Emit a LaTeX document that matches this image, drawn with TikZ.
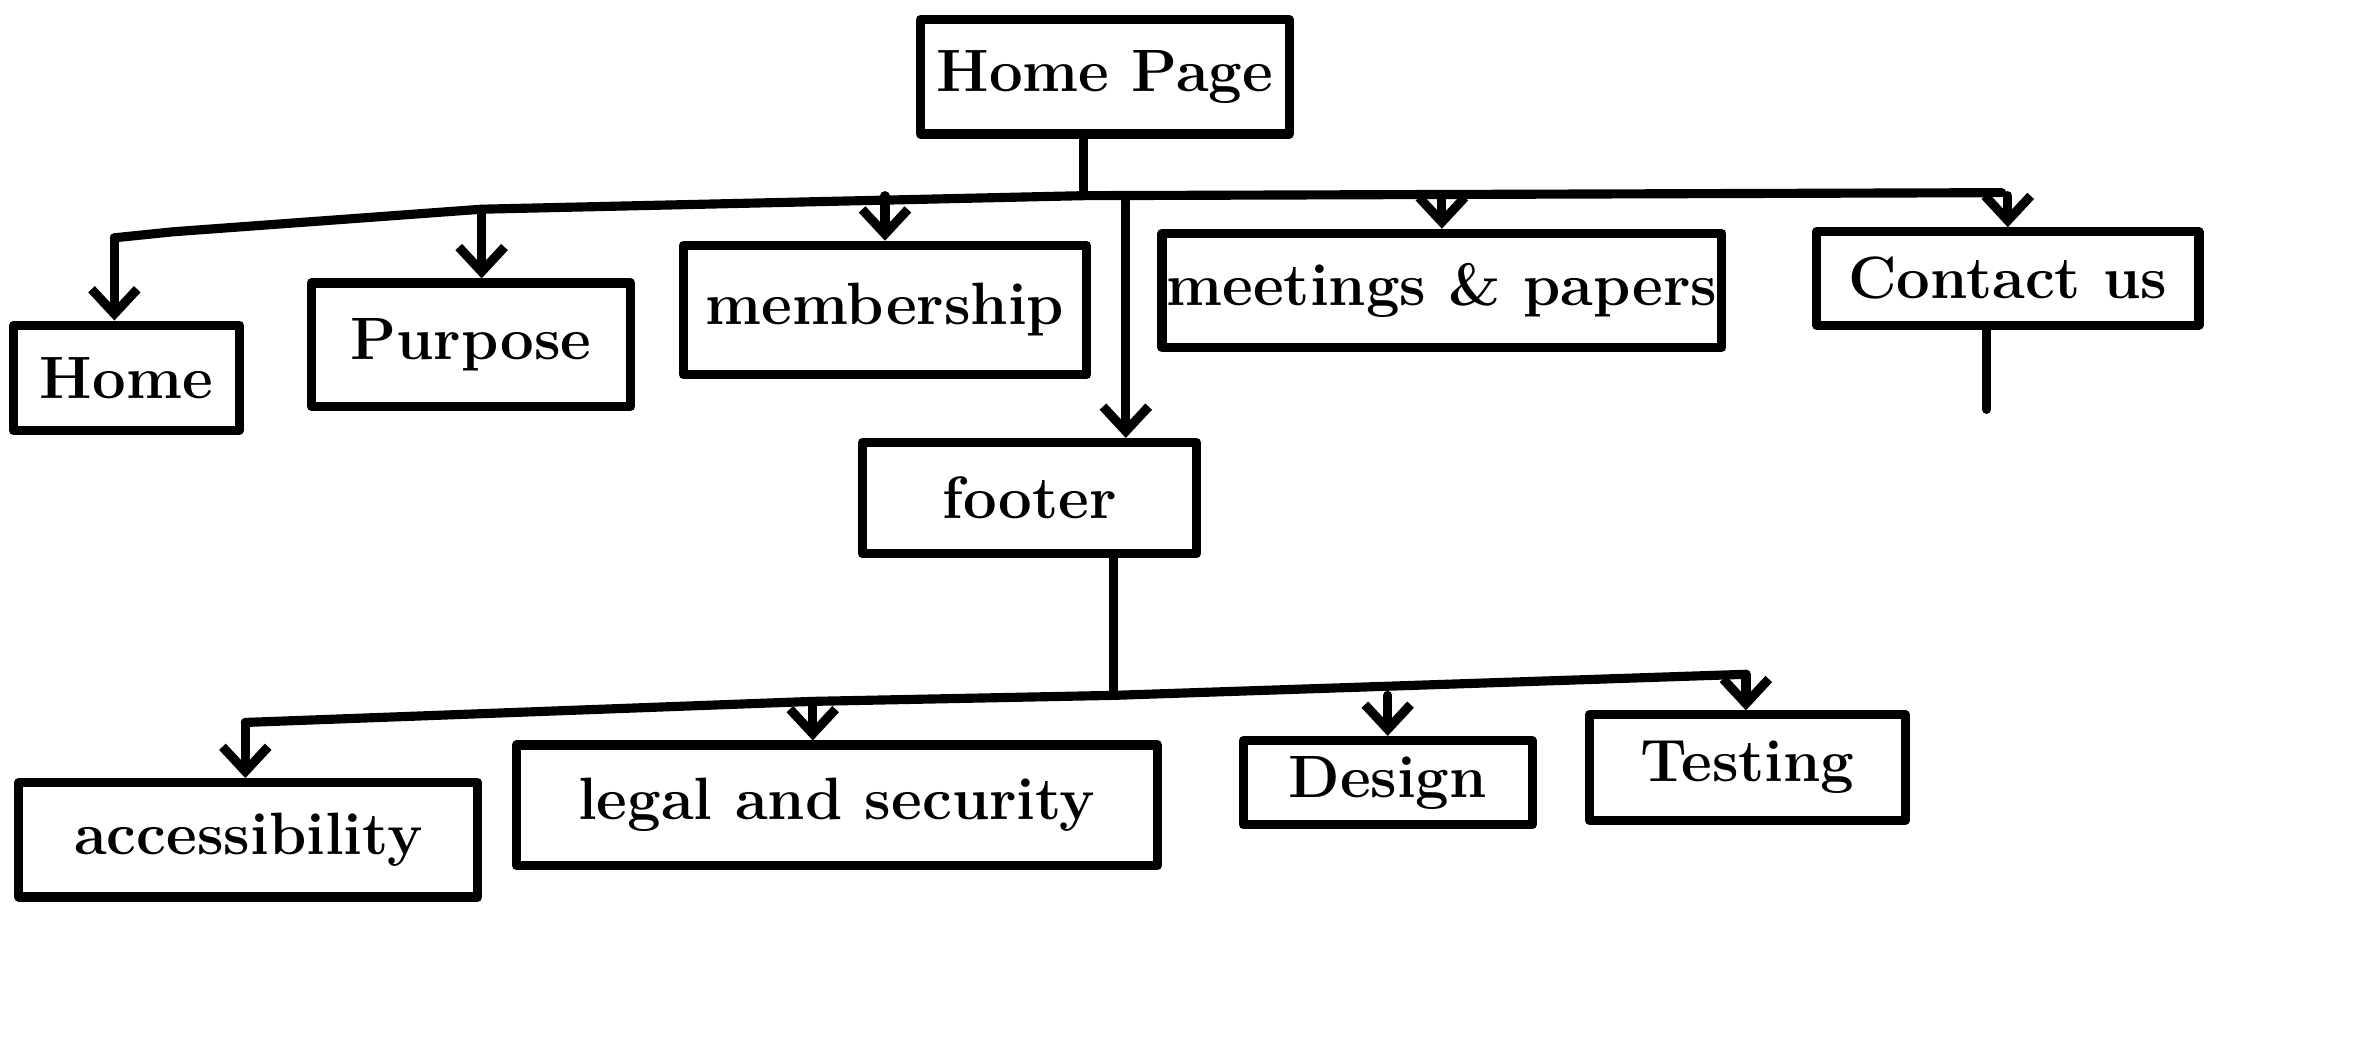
\documentclass[tikz,border=0pt]{standalone}
\usetikzlibrary{arrows.meta}

\newcommand{\px}{0.01505cm}
\tikzset{
    page/.style={draw, rectangle, line width=2.6pt, line join=round, inner sep=0pt,
        font=\fontsize{17}{21}\selectfont\bfseries},
    link/.style={line width=2.6pt, line cap=round, line join=round},
}

\begin{document}
\begin{tikzpicture}[x=\px, y=-\px, >={Straight Barb[length=7pt,width=13pt]}]
            \useasboundingbox (0,0) rectangle (1568,694);
            % level 0
            \node[page, minimum width=245*\px, minimum height=76*\px] (homepage) at (734,51) {Home Page};
            % level 1
            \node[page, minimum width=150*\px, minimum height=70*\px] (home) at (84,251) {Home};
            \node[page, minimum width=212*\px, minimum height=82*\px] (purpose) at (313,229) {Purpose};
            \node[page, minimum width=268*\px, minimum height=86*\px] (membership) at (588,206) {membership};
            \node[page, minimum width=372*\px, minimum height=76*\px] (meetings) at (958,193) {meetings \& papers};
            \node[page, minimum width=254*\px, minimum height=62*\px] (contact) at (1334,185) {Contact us};
            \node[page, minimum width=222*\px, minimum height=74*\px] (footer) at (684,331) {footer};
            % level 2
            \node[page, minimum width=305*\px, minimum height=76*\px] (access) at (165,558) {accessibility};
            \node[page, minimum width=426*\px, minimum height=80*\px] (legal) at (556,535) {legal and security};
            \node[page, minimum width=192*\px, minimum height=56*\px] (design) at (922,520) {Design};
            \node[page, minimum width=210*\px, minimum height=70*\px] (testing) at (1161,510) {Testing};

            \coordinate (hub) at (720,130);
            \coordinate (barL) at (76,158);
            \coordinate (bend) at (320,139);
            \coordinate (barR) at (1330,128);
            \coordinate (fdrop) at (748,131);
            \draw[link] (homepage.south -| hub) -- (hub);
            \draw[link] (barL) -- (115,154) -- (bend) -- (hub) -- (barR);
            \draw[link,->] (barL) -- (barL |- home.north);
            \draw[link,->] (bend) -- (bend |- purpose.north);
            \foreach \n in {membership, meetings, contact}{
                \draw[link,->] (\n.north |- hub) -- (\n.north);
            }
            \draw[link,->] (fdrop) -- (fdrop |- footer.north);
            \coordinate (tail) at (1320,272);
            \draw[link] (tail |- contact.south) -- (tail);

            \coordinate (hubB) at (740,462);
            \coordinate (botL) at (163,480);
            \coordinate (botM) at (540,466);
            \coordinate (botR) at (1160,448);
            \draw[link] (hubB |- footer.south) -- (hubB);
            \draw[link] (botL) -- (botM) -- (hubB) -- (botR);
            \draw[link,->] (botL) -- (botL |- access.north);
            \draw[link,->] (botM) -- (botM |- legal.north);
            \draw[link,->] (design.north |- hubB) -- (design.north);
            \draw[link,->] (botR) -- (botR |- testing.north);
\end{tikzpicture}
\end{document}
